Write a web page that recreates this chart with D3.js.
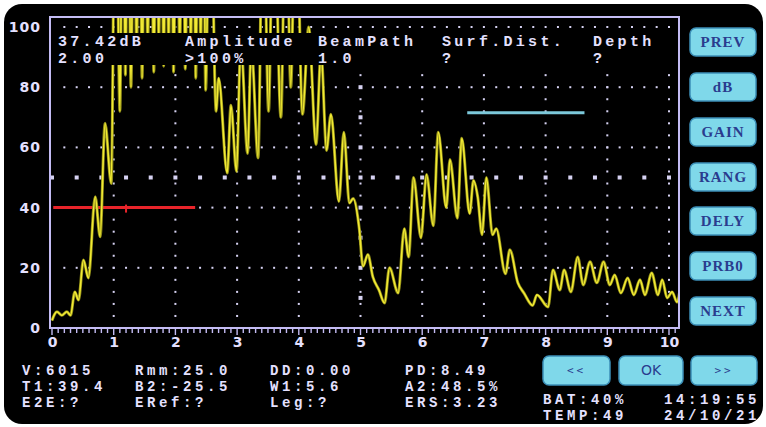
<!DOCTYPE html>
<html><head><meta charset="utf-8">
<script src="https://cdn.jsdelivr.net/npm/d3@7"></script>
<style>html,body{margin:0;padding:0;background:#fff;}svg{display:block;}</style>
</head><body>
<svg id="c" width="766" height="427"></svg>
<script>
// ---- data ----
const traceX = [0.00,0.04,0.08,0.16,0.24,0.30,0.37,0.43,0.51,0.59,0.70,0.78,0.86,0.96,1.03,1.10,1.15,1.19,1.23,1.28,1.33,1.37,1.42,1.46,1.51,1.55,1.60,1.65,1.69,1.73,1.77,1.81,1.85,1.89,1.93,1.97,2.02,2.07,2.12,2.16,2.21,2.25,2.29,2.33,2.37,2.41,2.45,2.49,2.56,2.66,2.70,2.84,2.90,2.99,3.06,3.17,3.23,3.34,3.42,3.51,3.59,3.71,3.79,3.87,3.95,4.06,4.16,4.28,4.36,4.45,4.52,4.65,4.73,4.82,4.88,4.98,5.04,5.12,5.20,5.30,5.39,5.47,5.61,5.71,5.78,5.86,5.98,6.07,6.18,6.26,6.39,6.45,6.57,6.64,6.77,6.83,6.90,6.97,7.04,7.14,7.20,7.35,7.42,7.55,7.65,7.79,7.86,8.04,8.12,8.23,8.30,8.41,8.52,8.61,8.72,8.83,8.94,9.04,9.12,9.22,9.33,9.43,9.53,9.61,9.72,9.82,9.89,9.97,10.05,10.13,10.18];
const traceY = [2.5,4.5,5.4,4.2,5.4,4.2,12.0,9.3,22.6,16.6,43.6,30.3,68,48,170,72,170,84,170,80,170,92,170,83,170,93,170,85,170,94,170,87,170,93,170,85,170,92,170,86,170,93,170,83,170,92,170,79,160,72,83,51.5,74,52,95,58,94,56.5,150,72,150,70,150,80,150,71,100,61,92,59,71,42,65,41.5,43,33,20.5,24.4,17,12.6,8.3,20,11.6,33,23.6,50,30,51,34,65,40,56,36.5,63,38,49,43.5,31,50,31,33,18,26,15,11.6,7.5,11,7,19.3,12.6,19.3,12,23.6,14.3,22,15,22,14.3,17.6,11.6,16.6,11,16,11,18.3,11,16,10,12,8.6,13];
const xTicks = [0,1,2,3,4,5,6,7,8,9,10];
const yTicks = [0,20,40,60,80,100];
const redGateX = [0.02, 2.32];
const redGateY = 40;
const cyanGateX = [6.73, 8.63];
const cyanGateY = 71.5;
const headRow1 = ["37.42dB","Amplitude","BeamPath","Surf.Dist.","Depth"];
const headRow2 = ["2.00",">100%","1.0","?","?"];
const infoCol1 = ["V:6015","T1:39.4","E2E:?"];
const infoCol2 = ["Rmm:25.0","B2:-25.5","ERef:?"];
const infoCol3 = ["DD:0.00","W1:5.6","Leg:?"];
const infoCol4 = ["PD:8.49","A2:48.5%","ERS:3.23"];
const statusLeft = ["BAT:40%","TEMP:49"];
const statusRight = ["14:19:55","24/10/21"];
const sideButtons = ["PREV","dB","GAIN","RANG","DELY","PRB0","NEXT"];
const bottomButtons = ["<<","OK",">>"];

// ---- drawing ----
const svg = d3.select("#c");
const x = d3.scaleLinear().domain([0,10]).range([52,669]);
const y = d3.scaleLinear().domain([0,100]).range([328,27]);
const frameL = 50, frameR = 679, frameT = 17, frameB = 328;
const lav = "#c4bcf4", txt = "#e4e0ff", dot = "#d6d2f2";

svg.append("rect").attr("width",766).attr("height",427).attr("fill","#ffffff");
svg.append("rect").attr("x",4).attr("y",4).attr("width",759).attr("height",420).attr("rx",18).attr("fill","#000");

const defs = svg.append("defs");
defs.append("clipPath").attr("id","plotclip").append("rect")
  .attr("x",frameL+1).attr("y",frameT+1).attr("width",frameR-frameL-2).attr("height",frameB-frameT-1);

const g = svg.append("g");

// grid: horizontal dotted rows
const hx = d3.range(0.2, 10.01, 0.2);
[20,40,60,80,100].forEach(v => {
  g.selectAll(null).data(hx).enter().append("rect")
    .attr("x", d => x(d)-1).attr("y", y(v)-1).attr("width",2).attr("height",2).attr("fill",dot);
});
// vertical dotted columns
const vy = d3.range(4, 99, 4);
xTicks.slice(1).forEach(v => {
  g.selectAll(null).data(vy).enter().append("rect")
    .attr("x", x(v)-1).attr("y", d => y(d)-1).attr("width",2).attr("height",2).attr("fill",dot);
});
// 50% row squares
g.selectAll(null).data(d3.range(0, 10.01, 0.4)).enter().append("rect")
  .attr("x", d => x(d)-2).attr("y", y(50)-2).attr("width",4).attr("height",4).attr("fill",dot);
// centre column squares
g.selectAll(null).data(d3.range(10, 95, 10)).enter().append("rect")
  .attr("x", x(5)-2).attr("y", d => y(d)-2).attr("width",4).attr("height",4).attr("fill",dot);

// gates
g.append("line").attr("x1",x(redGateX[0])).attr("x2",x(redGateX[1]))
  .attr("y1",y(redGateY)).attr("y2",y(redGateY)).attr("stroke","#e8242a").attr("stroke-width",3);
g.append("line").attr("x1",x(1.2)).attr("x2",x(1.2)).attr("y1",y(redGateY)-3).attr("y2",y(redGateY)+5)
  .attr("stroke","#e8242a").attr("stroke-width",2);
g.append("line").attr("x1",x(cyanGateX[0])).attr("x2",x(cyanGateX[1]))
  .attr("y1",y(cyanGateY)).attr("y2",y(cyanGateY)).attr("stroke","#7cc8da").attr("stroke-width",3);

// trace
const pts = traceX.map((d,i)=>[d, traceY[i]]);
const line = d3.line().x(d=>x(d[0])).y(d=>y(d[1])).curve(d3.curveMonotoneX);
const tg = svg.append("g").attr("clip-path","url(#plotclip)");
tg.append("path").attr("d", line(pts)).attr("fill","none").attr("stroke","#8f8c18").attr("stroke-width",3).attr("stroke-linejoin","round");
tg.append("path").attr("d", line(pts)).attr("fill","none").attr("stroke","#f2ea34").attr("stroke-width",1.6).attr("stroke-linejoin","round");

// text band
svg.append("rect").attr("x",frameL+1).attr("y",33).attr("width",frameR-frameL-2).attr("height",32).attr("fill","#000");

// frame
svg.append("rect").attr("x",frameL).attr("y",frameT).attr("width",frameR-frameL).attr("height",frameB-frameT)
  .attr("fill","none").attr("stroke",lav).attr("stroke-width",2);

// minor ticks under axis
const minor = d3.range(0, 10.16, 0.1);
svg.selectAll(null).data(minor).enter().append("line")
  .attr("x1", d=>x(d)).attr("x2", d=>x(d)).attr("y1", frameB).attr("y2", (d,i)=> i%10===0 ? frameB+7 : frameB+5)
  .attr("stroke", lav).attr("stroke-width",1.4);

// axis labels
const xa = d3.axisBottom(x).tickValues(xTicks).tickSize(0).tickPadding(9).tickFormat(d3.format("d"));
const xg = svg.append("g").attr("transform",`translate(0,${frameB})`).call(xa);
xg.select(".domain").remove();
xg.selectAll("text").attr("fill",txt).attr("font-family","DejaVu Sans").attr("font-weight","bold").attr("font-size",14);
const ya = d3.axisLeft(y).tickValues(yTicks).tickSize(0).tickPadding(8).tickFormat(d3.format("d"));
const yg = svg.append("g").attr("transform",`translate(${frameL-1},0)`).call(ya);
yg.select(".domain").remove();
yg.selectAll("text").attr("fill",txt).attr("font-family","DejaVu Sans").attr("font-weight","bold").attr("font-size",14).attr("letter-spacing",1);

// text rows
function label(s, x0, y0, size, ls, anchor) {
  svg.append("text").attr("x",x0).attr("y",y0)
    .attr("font-family","Liberation Mono").attr("font-weight","bold")
    .attr("font-size",size).attr("letter-spacing",ls).attr("fill",txt)
    .attr("text-anchor",anchor||"start").text(s);
}
const headX = [58,185,318,442,593];
headRow1.forEach((s,i)=> label(s, headX[i], 46, 15, 3.3));
headRow2.forEach((s,i)=> label(s, headX[i], 63, 15, 3.3));

const cols = [infoCol1,infoCol2,infoCol3,infoCol4];
const colX = [22,135,270,405];
cols.forEach((c,ci)=> c.forEach((s,ri)=> label(s, colX[ci], 375+ri*16, 14, 3.6)));
statusLeft.forEach((s,i)=> label(s, 543, 404+i*16, 14, 3.6));
statusRight.forEach((s,i)=> label(s, 760, 404+i*16, 14, 3.6, "end"));

// side buttons
const btnTops = [28,73,118,163,207,252,297];
sideButtons.forEach((t,i)=>{
  svg.append("rect").attr("x",690).attr("y",btnTops[i]).attr("width",66).attr("height",28).attr("rx",6)
    .attr("fill","#7fd8ea").attr("stroke","#3c8fb8").attr("stroke-width",1.5);
  svg.append("text").attr("x",723).attr("y",btnTops[i]+19).attr("text-anchor","middle")
    .attr("font-family","Liberation Serif").attr("font-weight","bold").attr("font-size",15).attr("letter-spacing",1).attr("fill","#2a3c8e").text(t);
});
const bbX = [543,619,691], bbW = [67,64,66];
bottomButtons.forEach((t,i)=>{
  svg.append("rect").attr("x",bbX[i]).attr("y",356).attr("width",bbW[i]).attr("height",29).attr("rx",6)
    .attr("fill","#7fd8ea").attr("stroke","#3c8fb8").attr("stroke-width",1.5);
  svg.append("text").attr("x",bbX[i]+bbW[i]/2).attr("y",i===1?375:374).attr("text-anchor","middle")
    .attr("font-family", i===1 ? "DejaVu Sans" : "DejaVu Sans Mono").attr("font-size", i===1?14:11)
    .attr("letter-spacing", i===1?0:3).attr("fill","#2a3c8e").text(t);
});
</script>
</body></html>
